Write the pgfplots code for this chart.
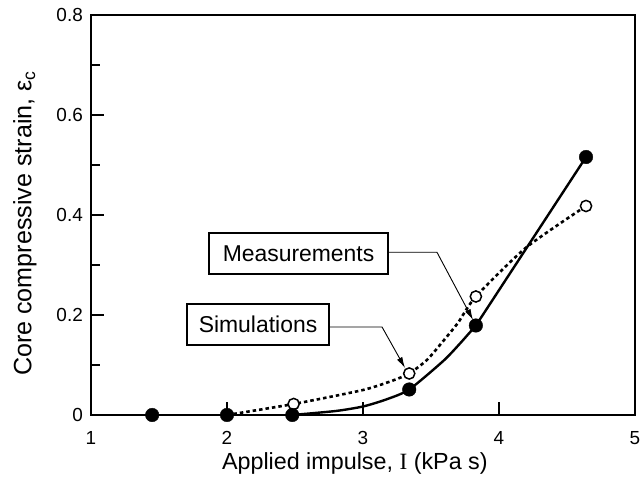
\documentclass[border=0pt]{standalone}
\usepackage{fontspec}
\setmainfont{Liberation Sans}
\newfontfamily\seriffont{Liberation Serif}
\usepackage{pgfplots}
\usepackage{pgfplotstable}
\pgfplotsset{compat=1.18}
\usetikzlibrary{arrows.meta,calc}

% filled circles
\pgfplotstableread{
x y
1.45 0
2.00 0
2.48 0
3.34 0.051
3.83 0.179
4.64 0.516
}\filled
% open circles
\pgfplotstableread{
x y
2.49 0.022
3.34 0.083
3.83 0.237
4.64 0.418
}\open
% solid curve, curved part
\pgfplotstableread{
x y
2.48 0
2.80 0.008
3.00 0.017
3.17 0.031
3.34 0.051
3.59 0.108
3.71 0.142
3.83 0.179
}\solidcurve
% solid curve, straight part
\pgfplotstableread{
x y
3.83 0.179
4.64 0.516
}\solidline
% dotted curve
\pgfplotstableread{
x y
2.00 0
2.49 0.022
3.00 0.050
3.22 0.069
3.34 0.083
3.47 0.110
3.59 0.148
3.70 0.185
3.83 0.237
4.20 0.335
4.64 0.418
}\dottedcurve

\begin{document}
\begin{tikzpicture}
\begin{axis}[
  scale only axis, width=544bp, height=400bp,
  xmin=1, xmax=5, ymin=0, ymax=0.8,
  xtick={1,2,3,4,5}, ytick={0,0.2,0.4,0.6,0.8},
  minor ytick={0.1,0.3,0.5,0.7},
  tick align=inside, xtick pos=left, ytick pos=left,
  major tick length=13bp, minor tick length=9bp,
  every tick/.style={black, line width=1.2bp},
  axis line style={line width=1.3bp},
  /pgf/number format/assume math mode=true,
  ticklabel style={font=\fontsize{19}{21}\selectfont, inner sep=0pt},
  xticklabel style={anchor=base, yshift=-30bp},
  yticklabel style={anchor=east, xshift=-8bp},
  xlabel={Applied impulse, {\seriffont I} (kPa s)},
  xlabel style={font=\fontsize{23.4}{27}\selectfont, inner sep=0pt, anchor=base,
    at={($(rel axis cs:0.485,0)+(0,-55bp)$)}},
  ylabel={Core compressive strain, ε\textsubscript{c}},
  ylabel style={font=\fontsize{25.2}{29}\selectfont, inner sep=0pt, anchor=north,
    at={($(rel axis cs:0,0.479)+(-78bp,0)$)}},
  clip=false,
]
\addplot[black, line width=2.6bp, dash pattern=on 3.5bp off 3bp, smooth, tension=0.4] table {\dottedcurve};
\addplot[black, line width=2.4bp, smooth, tension=0.4] table {\solidcurve};
\addplot[black, line width=2.4bp] table {\solidline};
\addplot[only marks, mark=*, mark size=5.6bp, mark options={fill=white, draw=black, line width=1.5bp}] table {\open};
\addplot[only marks, mark=*, mark size=6.8bp, black] table {\filled};

\node[draw, line width=1.3bp, fill=white, minimum width=179bp, minimum height=41bp, inner sep=0pt,
  font=\fontsize{23}{27}\selectfont] at (axis cs:2.526,0.323) {Measurements};
\draw[line width=0.9bp, -{Latex[length=11bp,width=6bp]}] (axis cs:3.184,0.3254) -- (axis cs:3.544,0.3254) -- (axis cs:3.809,0.19);
\node[draw, line width=1.3bp, fill=white, minimum width=142bp, minimum height=41bp, inner sep=0pt,
  font=\fontsize{23}{27}\selectfont] at (axis cs:2.228,0.181) {Simulations};
\draw[line width=0.9bp, -{Latex[length=11bp,width=6bp]}] (axis cs:2.75,0.176) -- (axis cs:3.14,0.176) -- (axis cs:3.309,0.094);
\end{axis}
\pgfresetboundingbox
\path[use as bounding box] ([shift={(-91bp,-67bp)}]current axis.south west) rectangle ([shift={(5bp,15bp)}]current axis.north east);
\end{tikzpicture}
\end{document}
